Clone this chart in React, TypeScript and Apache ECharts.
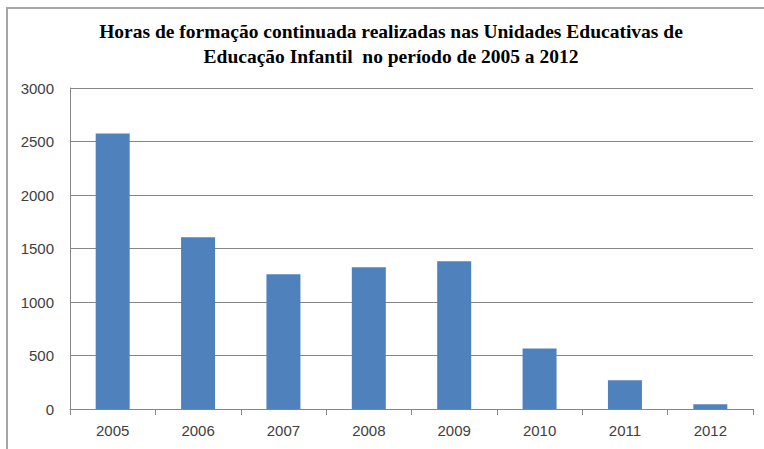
import React, { useEffect, useRef } from "react";
import * as echarts from "echarts";

const categories = ["2005", "2006", "2007", "2008", "2009", "2010", "2011", "2012"];
const hours = [2575, 1605, 1260, 1325, 1382, 565, 268, 45];
const yTicks = { min: 0, max: 3000, interval: 500 };
const titleText = "Horas de formação continuada realizadas nas Unidades Educativas de\nEducação Infantil  no período de 2005 a 2012";

export default function App() {
  const ref = useRef<HTMLDivElement>(null);
  useEffect(() => {
    if (!ref.current) return;
    const chart = echarts.init(ref.current, null, { renderer: "svg" });
    chart.setOption({
      animation: false,
      backgroundColor: "#ffffff",
      graphic: [
        {
          type: "polyline",
          shape: { points: [[7, 460], [7, 8], [780, 8]] },
          style: { stroke: "#a6a6a6", lineWidth: 2, fill: "none" },
          silent: true,
        },
        {
          type: "text",
          x: 391,
          y: 19,
          style: {
            text: titleText,
            fontFamily: "'Liberation Serif', 'Times New Roman', serif",
            fontWeight: "bold",
            fontSize: 19.5,
            lineHeight: 25,
            fill: "#000000",
            align: "center",
            verticalAlign: "top",
          },
        },
      ],
      grid: { left: 70, right: 11, top: 88, bottom: 40, containLabel: false },
      xAxis: {
        type: "category",
        data: categories,
        axisLine: { lineStyle: { color: "#868686", width: 1 } },
        axisTick: { show: true, length: 6, lineStyle: { color: "#868686" } },
        axisLabel: {
          color: "#404040",
          fontFamily: "'Liberation Sans', Arial, sans-serif",
          fontSize: 15,
          margin: 14,
        },
      },
      yAxis: {
        type: "value",
        min: yTicks.min,
        max: yTicks.max,
        interval: yTicks.interval,
        axisLine: { show: true, lineStyle: { color: "#868686", width: 1 } },
        axisTick: { show: false },
        splitLine: { lineStyle: { color: "#868686", width: 1 } },
        axisLabel: {
          color: "#404040",
          fontFamily: "'Liberation Sans', Arial, sans-serif",
          fontSize: 15,
          margin: 16,
          formatter: (v: number) => String(v),
        },
      },
      series: [
        {
          type: "bar",
          data: hours,
          barWidth: 34,
          itemStyle: { color: "#4F81BD" },
        },
      ],
    });
    return () => chart.dispose();
  }, []);
  return (
    <div
      ref={ref}
      style={{ position: "absolute", left: 0, top: 0, width: 764, height: 449 }}
    />
  );
}
